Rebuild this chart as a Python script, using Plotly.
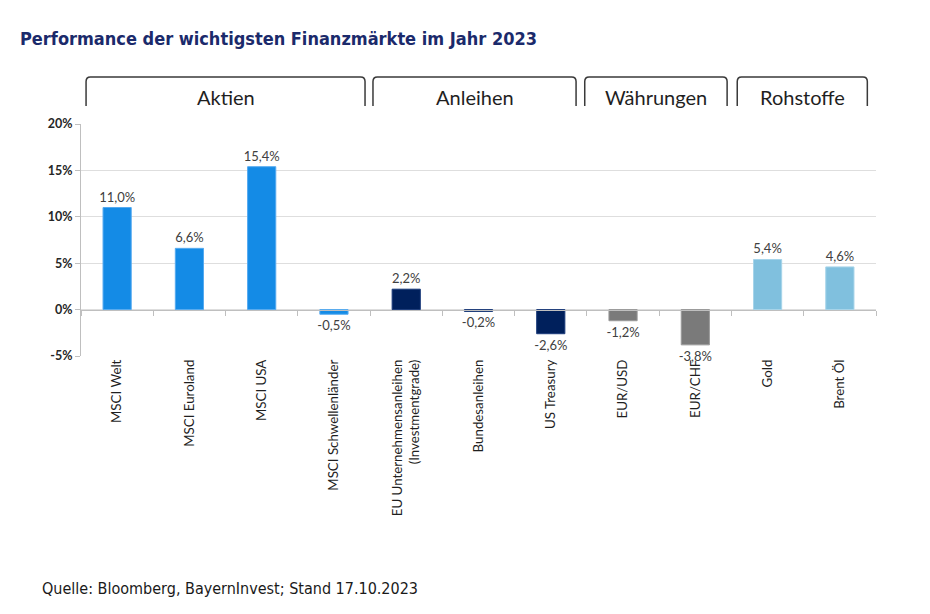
import plotly.graph_objects as go

categories = ["MSCI Welt", "MSCI Euroland", "MSCI USA", "MSCI Schwellenländer",
              "EU Unternehmensanleihen<br>(Investmentgrade)", "Bundesanleihen",
              "US Treasury", "EUR/USD", "EUR/CHF", "Gold", "Brent Öl"]
values = [11.0, 6.6, 15.4, -0.5, 2.2, -0.2, -2.6, -1.2, -3.8, 5.4, 4.6]
groups = ["Aktien", "Aktien", "Aktien", "Aktien", "Anleihen", "Anleihen", "Anleihen",
          "Währungen", "Währungen", "Rohstoffe", "Rohstoffe"]
group_names = ["Aktien", "Anleihen", "Währungen", "Rohstoffe"]
y_ticks = [-5, 0, 5, 10, 15, 20]

group_colors = {"Aktien": "#148be6", "Anleihen": "#00205c",
                "Währungen": "#7a7a7a", "Rohstoffe": "#80c0de"}
group_edges = {"Aktien": "#55aaf0", "Anleihen": "#1a3a7a",
               "Währungen": "#9a9a9a", "Rohstoffe": "#a6d4ea"}
# bracket spans in category units
bracket_spans = {"Aktien": (-0.43, 3.43), "Anleihen": (3.54, 6.35),
                 "Währungen": (6.47, 8.44), "Rohstoffe": (8.58, 10.38)}

labels = [f"{v:.1f}%".replace(".", ",") for v in values]
xs = list(range(len(categories)))

OFF = 8  # page body margin
W, H = 930, 614
L, T = 81 - OFF, 124 - OFF
PW, PH = 795, 232
R = W - L - PW
B = H - T - PH

FONT = "Lato, Open Sans, sans-serif"
COND = "DejaVu Sans Condensed, Liberation Sans Narrow, sans-serif"

fig = go.Figure()
fig.add_trace(go.Bar(
    x=xs, y=values, text=labels, textposition="outside", cliponaxis=False,
    constraintext="none",
    width=0.39,
    marker=dict(color=[group_colors[g] for g in groups],
                line=dict(color=[group_edges[g] for g in groups], width=1)),
    textfont=dict(family=FONT, size=13, color="#404040"),
    hoverinfo="skip", showlegend=False,
))
fig.add_trace(go.Scatter(x=xs, y=[0] * len(xs), xaxis="x2", mode="markers",
                         marker=dict(opacity=0), hoverinfo="skip", showlegend=False))

shapes = []
yb, yt = 1.078, 1.203
rx, ry = 0.06, 0.02
for g in group_names:
    x0, x1 = bracket_spans[g]
    path = (f"M {x0},{yb} L {x0},{yt-ry} Q {x0},{yt} {x0+rx},{yt} "
            f"L {x1-rx},{yt} Q {x1},{yt} {x1},{yt-ry} L {x1},{yb}")
    shapes.append(dict(type="path", path=path, xref="x", yref="paper",
                       line=dict(color="#3a3a3a", width=1.5)))

annotations = []
for g in group_names:
    x0, x1 = bracket_spans[g]
    annotations.append(dict(x=(x0 + x1) / 2, y=1.116, xref="x", yref="paper",
                            text=g, showarrow=False, yanchor="middle",
                            font=dict(family=FONT, size=20, color="#1f1f1f")))


def px_to_paper(px_x, px_y):
    return (px_x - OFF - L) / PW, 1 + (T - (px_y - OFF)) / PH


tx, ty = px_to_paper(18, 38)
annotations.append(dict(x=tx, y=ty, xref="paper", yref="paper", xanchor="left",
                        yanchor="middle", showarrow=False,
                        text="Performance der wichtigsten Finanzmärkte im Jahr 2023",
                        font=dict(family=COND, size=18, color="#1b2a6b", weight="bold")))
fx, fy = px_to_paper(40, 588)
annotations.append(dict(x=fx, y=fy, xref="paper", yref="paper", xanchor="left",
                        yanchor="middle", showarrow=False,
                        text="Quelle: Bloomberg, BayernInvest; Stand 17.10.2023",
                        font=dict(family=COND, size=16, color="#1a1a1a")))

fig.update_layout(
    width=W, height=H,
    margin=dict(l=L, r=R, t=T, b=B),
    paper_bgcolor="white", plot_bgcolor="white",
    shapes=shapes,
    annotations=annotations,
    xaxis=dict(
        type="linear", range=[-0.5, len(categories) - 0.5],
        tickmode="array", tickvals=xs, ticktext=categories, tickangle=-90,
        showgrid=False, showline=False, zeroline=False, ticks="",
        tickfont=dict(family=FONT, size=13.3, color="#1f1f1f"),
    ),
    xaxis2=dict(
        overlaying="x", anchor="free", position=0.2, matches="x",
        range=[-0.5, len(categories) - 0.5], showticklabels=False,
        tickmode="array", tickvals=[i - 0.5 for i in range(len(categories) + 1)],
        ticks="outside", ticklen=5, tickcolor="#bfbfbf",
        showline=True, linecolor="#bfbfbf", linewidth=1, showgrid=False, zeroline=False,
    ),
    yaxis=dict(
        range=[-5, 20], tickvals=y_ticks, ticktext=[f"<b>{t}%</b>" for t in y_ticks],
        showgrid=True, gridcolor="#dedede", gridwidth=1,
        showline=True, linecolor="#bfbfbf", ticks="outside", ticklen=5,
        tickcolor="#bfbfbf", zeroline=False,
        tickfont=dict(family=FONT, size=12.5, color="#262626"),
    ),
)

fig.write_html("out.html")
